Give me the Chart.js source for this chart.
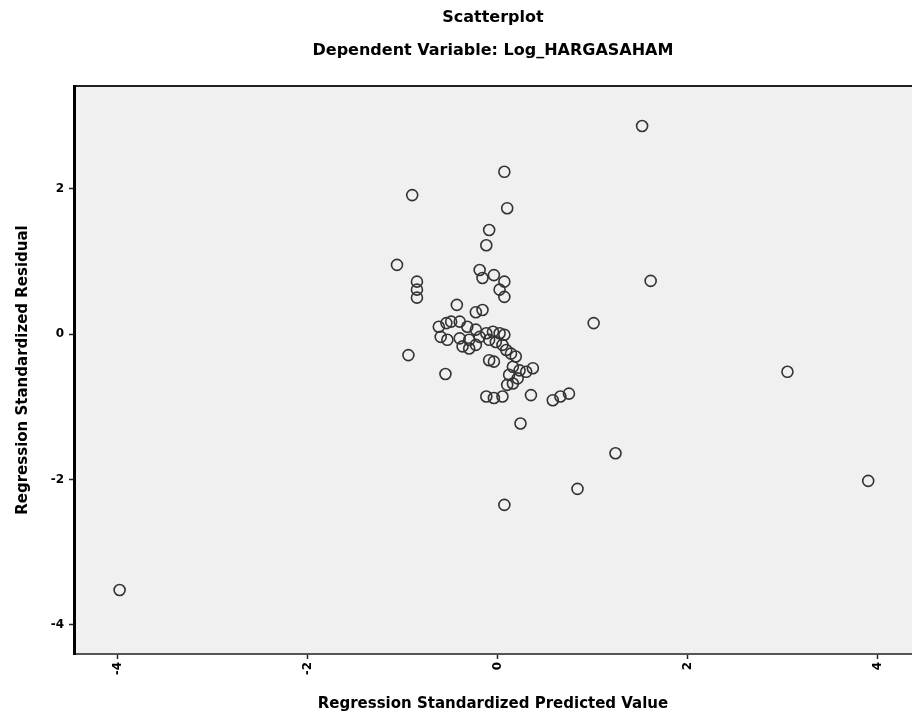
<!DOCTYPE html>
<html>
<head>
<meta charset="utf-8">
<title>Scatterplot</title>
<script src="https://cdn.jsdelivr.net/npm/chart.js@4.4.0/dist/chart.umd.min.js"></script>
<style>
  html, body { margin: 0; padding: 0; background: #fff; overflow: hidden; }
  #wrap { width: 912px; height: 724px; overflow: hidden; }
</style>
</head>
<body>
<div id="wrap"><canvas id="scatter" width="919" height="724"></canvas></div>
<script>
// values
const chartTitle = 'Scatterplot';
const chartSubtitle = 'Dependent Variable: Log_HARGASAHAM';
const xAxisTitle = 'Regression Standardized Predicted Value';
const yAxisTitle = 'Regression Standardized Residual';

const xTicks = [-4, -2, 0, 2, 4];
const yTicks = [-4, -2, 0, 2];

const predicted = [
  1.52, 0.07, -0.90, 0.10, -0.09, -0.12, -1.06,
  -0.85, -0.85, -0.85,
  -0.19, -0.16, -0.04, 0.07, 0.02, 0.07,
  1.61, 1.01, 3.05, 1.24, 0.84, 3.90, 0.07, -3.98,
  -0.94, -0.55,
  -0.43, -0.23, -0.16,
  -0.62, -0.54, -0.49, -0.40, -0.32, -0.23, -0.60, -0.53, -0.40, -0.30,
  -0.19, -0.12, -0.05, 0.02, 0.07, -0.30, -0.23, -0.37, -0.09, -0.02,
  0.05, 0.09, 0.14, 0.19, -0.09, -0.04, 0.16, 0.23, 0.30, 0.37,
  0.12, 0.21, 0.10, 0.16,
  -0.12, -0.04, 0.05, 0.35, 0.58, 0.66, 0.75, 0.24
];
const residual = [
  2.86, 2.23, 1.91, 1.73, 1.43, 1.22, 0.95,
  0.72, 0.61, 0.50,
  0.88, 0.77, 0.81, 0.72, 0.61, 0.51,
  0.73, 0.15, -0.52, -1.64, -2.13, -2.02, -2.35, -3.52,
  -0.29, -0.55,
  0.40, 0.30, 0.33,
  0.10, 0.15, 0.17, 0.17, 0.10, 0.06, -0.04, -0.08, -0.06, -0.08,
  -0.04, 0.01, 0.03, 0.01, -0.01, -0.20, -0.15, -0.17, -0.08, -0.11,
  -0.15, -0.22, -0.27, -0.31, -0.36, -0.38, -0.45, -0.50, -0.52, -0.47,
  -0.56, -0.61, -0.70, -0.68,
  -0.86, -0.88, -0.86, -0.84, -0.91, -0.86, -0.82, -1.23
];

const points = predicted.map((x, i) => ({ x: x, y: residual[i] }));

// grey plot panel plus the thin frame line on top
const panelPlugin = {
  id: 'panel',
  beforeDraw(chart) {
    const { ctx, chartArea } = chart;
    ctx.save();
    ctx.fillStyle = '#f0f0f0';
    ctx.fillRect(chartArea.left, chartArea.top, chartArea.right - chartArea.left + 10, chartArea.bottom - chartArea.top);
    ctx.strokeStyle = '#222';
    ctx.lineWidth = 2;
    ctx.beginPath();
    ctx.moveTo(chartArea.left, chartArea.top);
    ctx.lineTo(chartArea.right + 10, chartArea.top);
    ctx.stroke();
    ctx.restore();
  }
};

const labelFont = { family: 'DejaVu Sans', size: 16, weight: 'bold' };

new Chart(document.getElementById('scatter'), {
  type: 'scatter',
  data: {
    datasets: [{
      label: 'Residual',
      data: points,
      pointStyle: 'circle',
      pointRadius: 5.5,
      pointHoverRadius: 5.5,
      borderColor: '#333',
      borderWidth: 1.6,
      backgroundColor: 'rgba(0,0,0,0)',
    }],
  },
  options: {
    responsive: false,
    animation: false,
    layout: { padding: 0 },
    plugins: {
      legend: { display: false },
      tooltip: { enabled: false },
      title: {
        display: true,
        text: chartTitle,
        fullSize: false,
        color: '#000',
        font: labelFont,
        padding: { top: 8, bottom: 4.6 },
      },
      subtitle: {
        display: true,
        text: chartSubtitle,
        fullSize: false,
        color: '#000',
        font: labelFont,
        padding: { top: 9.6, bottom: 25.4 },
      },
    },
    scales: {
      x: {
        type: 'linear',
        min: -4.46,
        max: 4.36,
        afterBuildTicks: (scale) => { scale.ticks = xTicks.map(v => ({ value: v })); },
        afterFit: (scale) => { scale.height = 70; scale.paddingLeft = 0; scale.paddingRight = 0; },
        border: { display: true, color: '#555', width: 2 },
        grid: { drawOnChartArea: false, drawTicks: true, tickLength: 5, tickColor: '#222', tickWidth: 1.5 },
        ticks: {
          color: '#000',
          font: { family: 'DejaVu Sans', size: 12, weight: 'bold' },
          minRotation: 90,
          maxRotation: 90,
          padding: 3,
        },
        title: {
          display: true,
          text: xAxisTitle,
          color: '#000',
          font: { family: 'DejaVu Sans', size: 15, weight: 'bold' },
          padding: { top: 0, bottom: 11 },
        },
      },
      y: {
        type: 'linear',
        min: -4.40,
        max: 3.41,
        afterBuildTicks: (scale) => { scale.ticks = yTicks.map(v => ({ value: v })); },
        afterFit: (scale) => { scale.width = 74; scale.paddingTop = 0; scale.paddingBottom = 0; },
        border: { display: true, color: '#000', width: 3 },
        grid: { drawOnChartArea: false, drawTicks: true, tickLength: 5, tickColor: '#222', tickWidth: 1.5 },
        ticks: {
          color: '#000',
          font: { family: 'DejaVu Sans', size: 12, weight: 'bold' },
          padding: 5,
        },
        title: {
          display: true,
          text: yAxisTitle,
          color: '#000',
          font: { family: 'DejaVu Sans', size: 15, weight: 'bold' },
          padding: { top: 14, bottom: 0 },
        },
      },
    },
  },
  plugins: [panelPlugin],
});
</script>
</body>
</html>
